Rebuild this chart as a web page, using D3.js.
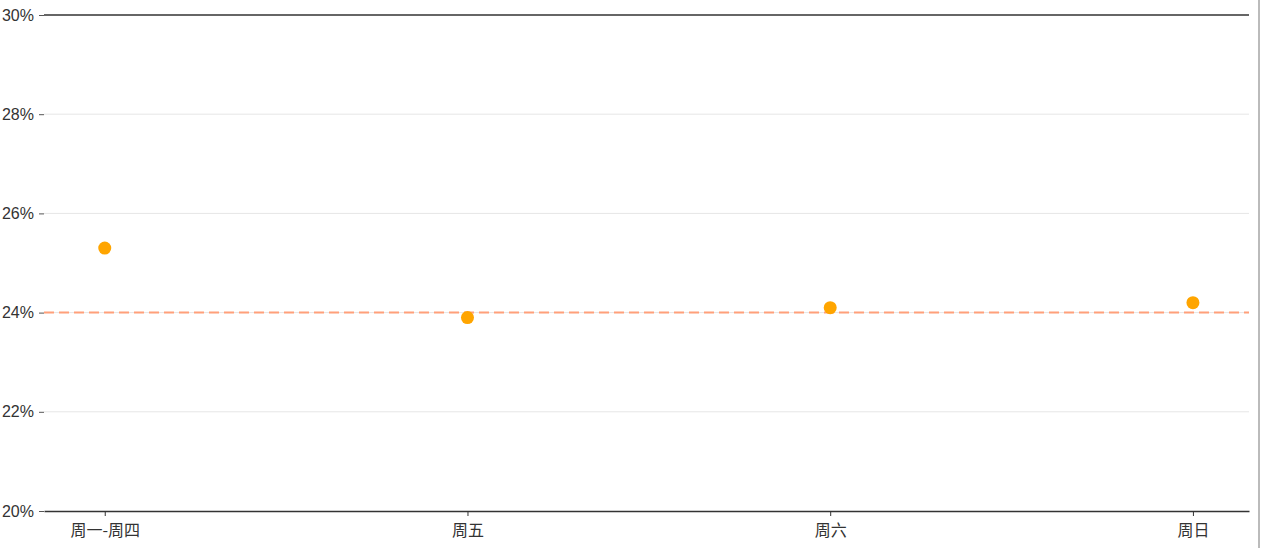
<html>
<head>
<meta charset="utf-8">
<script src="https://cdn.jsdelivr.net/npm/d3@7"></script>
<style>
  body { margin: 0; background: #fff; }
  svg { display: block; font-family: "Liberation Sans", Arial, sans-serif; }
</style>
</head>
<body>
<script>
    var categories = ["周一-周四", "周五", "周六", "周日"];
    var values = [25.3, 23.9, 24.1, 24.2];
    var yTicks = [20, 22, 24, 26, 28, 30];
    var refValue = 24;

    var width = 1262;
    var height = 548;
    var margin = {top: 15, right: 13, bottom: 37, left: 44};

    var svg = d3.select("body")
        .append("svg")
        .attr("width", width)
        .attr("height", height);

    var x = d3.scalePoint()
        .domain(categories)
        .range([margin.left, width - margin.right])
        .padding(0.161)
        .align(0.52);

    var y = d3.scaleLinear()
        .domain([20, 30])
        .range([height - margin.bottom, margin.top]);

    // grid lines
    svg.append("g")
        .selectAll("line")
        .data(yTicks.filter(function(d){ return d > 20 && d < 30; }))
        .enter()
        .append("line")
        .attr("x1", margin.left)
        .attr("x2", width - margin.right)
        .attr("y1", function(d){ return y(d); })
        .attr("y2", function(d){ return y(d); })
        .attr("stroke", "#e6e6e6")
        .attr("stroke-width", 1);

    // top border line
    svg.append("line")
        .attr("x1", margin.left)
        .attr("x2", width - margin.right)
        .attr("y1", y(30))
        .attr("y2", y(30))
        .attr("stroke", "#333")
        .attr("stroke-width", 1.5);

    // y axis
    var yAxis = svg.append("g")
        .attr("transform", "translate(" + margin.left + ",0)")
        .call(d3.axisLeft(y).tickValues(yTicks).tickSize(5).tickPadding(5)
            .tickFormat(function(d){ return d + "%"; }));
    yAxis.select(".domain").remove();
    yAxis.selectAll(".tick line").attr("stroke", "#555");
    yAxis.selectAll("text")
        .attr("font-size", "16px")
        .attr("fill", "#333");

    // x axis
    var xAxis = svg.append("g")
        .attr("transform", "translate(0," + y(20) + ")")
        .call(d3.axisBottom(x).tickSize(5).tickPadding(9).tickSizeOuter(0));
    xAxis.select(".domain")
        .attr("stroke", "#333")
        .attr("stroke-width", 1.5);
    xAxis.selectAll(".tick line").attr("stroke", "#333");
    xAxis.selectAll("text")
        .attr("font-size", "16px")
        .attr("font-family", "'Noto Sans CJK SC', sans-serif")
        .attr("fill", "#333");

    // reference line
    svg.append("line")
        .attr("x1", margin.left)
        .attr("x2", width - margin.right)
        .attr("y1", y(refValue))
        .attr("y2", y(refValue))
        .attr("stroke", "#ffa07a")
        .attr("stroke-width", 2)
        .attr("stroke-dasharray", "10,5");

    // points
    svg.append("g")
        .selectAll("circle")
        .data(values)
        .enter()
        .append("circle")
        .attr("cx", function(d, i){ return x(categories[i]); })
        .attr("cy", function(d){ return y(d); })
        .attr("r", 6.5)
        .attr("fill", "orange");

    // right frame edge
    svg.append("line")
        .attr("x1", width - 3)
        .attr("x2", width - 3)
        .attr("y1", 0)
        .attr("y2", height)
        .attr("stroke", "#bbb")
        .attr("stroke-width", 2);
</script>
</body>
</html>
